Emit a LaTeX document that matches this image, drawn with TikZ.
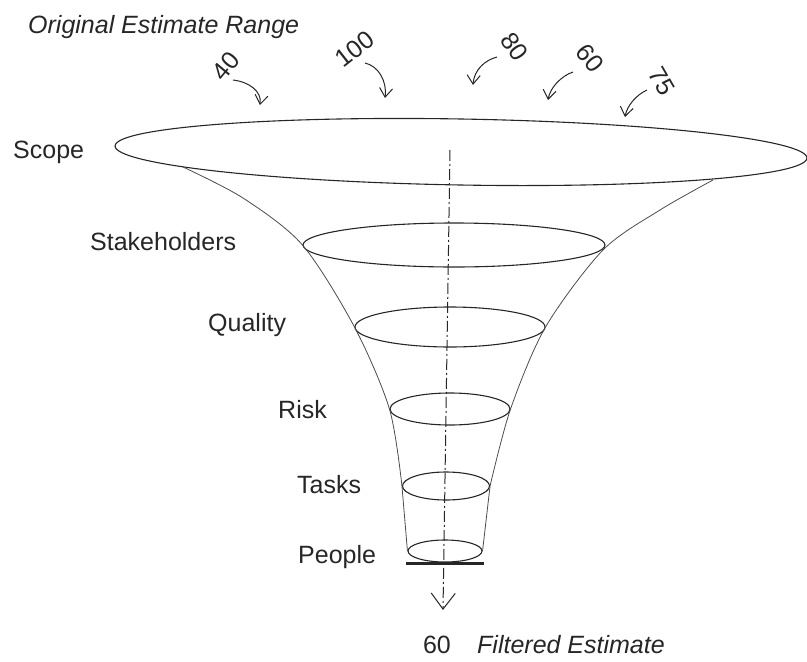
\documentclass[tikz,border=0pt]{standalone}
\usepackage{fontspec}
\setmainfont{Liberation Sans}
\usetikzlibrary{arrows.meta,shapes.geometric}
\tikzset{
ring/.style={draw,ellipse,inner sep=0pt,line width=1.1pt,black!85},
lbl/.style={font=\fontsize{25}{30}\selectfont,inner sep=0pt,anchor=base west,text=black!85},
est/.style={font=\fontsize{25}{30}\selectfont\itshape,inner sep=0pt,anchor=base west,text=black!85},
num/.style={font=\fontsize{25}{30}\selectfont,inner sep=0pt,text=black!85},
side/.style={line width=0.8pt,black!70},
pick/.style={-{Straight Barb[length=9pt,width=13pt]},line width=1pt,black!85},
axis/.style={-{Straight Barb[length=16pt,width=24pt]},line width=1pt,black!85,dash pattern=on 11pt off 3pt on 2pt off 3pt}
}
\begin{document}
\begin{tikzpicture}[x=1pt,y=-1pt]
\useasboundingbox (0,0) rectangle (807,662);
% funnel rings
\node[ring,rotate=-1,minimum width=692pt,minimum height=66pt](scope) at (461,152){};
\node[ring,minimum width=302pt,minimum height=44pt](stake) at (454,245){};
\node[ring,minimum width=190pt,minimum height=40pt](qual) at (450,327){};
\node[ring,minimum width=120pt,minimum height=32pt](risk) at (450,409){};
\node[ring,minimum width=87pt,minimum height=28pt](task) at (446,486){};
\node[ring,minimum width=74pt,minimum height=22pt](ppl) at (445,551){};
\draw[line width=3pt,black!85]([xshift=-1pt,yshift=-1pt]ppl.west |- ppl.south)--([xshift=1pt,yshift=-1pt]ppl.east |- ppl.south);
% funnel sides
\draw[side] plot[smooth] coordinates {(183,167) (243,198) (stake.west) (qual.west) (risk.west) (task.west)} -- (ppl.west);
\draw[side] plot[smooth] coordinates {(713,180) (660,210) (603,250) (qual.east) (risk.east) (task.east)} -- (ppl.east);
% axis
\coordinate (top) at (450,150);
\coordinate (tip) at (443,610);
\draw[axis](top)--(tip);
% labels
\node[lbl](scopel) at (13,158){Scope};
\node[lbl](stakel) at (90,250){Stakeholders};
\node[lbl](quall) at (208,331){Quality};
\node[lbl](riskl) at (278,418){Risk};
\node[lbl](taskl) at (297,493){Tasks};
\node[lbl](ppll) at (298,563){People};
\node[est](orig) at (28,33){Original Estimate Range};
\node[lbl,anchor=base](res) at (437,653){60};
\node[est](filt) at (477,653){Filtered Estimate};
% estimates
\node[num,rotate=50](n40) at (226,66){40};
\node[num,rotate=38](n100) at (355,49){100};
\node[num,rotate=-55](n80) at (515,47){80};
\node[num,rotate=-52](n60) at (590,58){60};
\node[num,rotate=-60](n75) at (662,81){75};
\coordinate (a40) at (233,80); \coordinate (t40) at (260,105);
\coordinate (a100) at (365,63); \coordinate (t100) at (385,98);
\coordinate (a80) at (497,57); \coordinate (t80) at (473,85);
\coordinate (a60) at (573,72); \coordinate (t60) at (548,100);
\coordinate (a75) at (647,90); \coordinate (t75) at (625,117);
\draw[pick](a40) .. controls +(17,2) and +(2,-13) .. (t40);
\draw[pick](a100) .. controls +(13,3) and +(2,-18) .. (t100);
\draw[pick](a80) .. controls +(-12,3) and +(1,-15) .. (t80);
\draw[pick](a60) .. controls +(-12,4) and +(2,-12) .. (t60);
\draw[pick](a75) .. controls +(-11,5) and +(2,-11) .. (t75);
\end{tikzpicture}
\end{document}
